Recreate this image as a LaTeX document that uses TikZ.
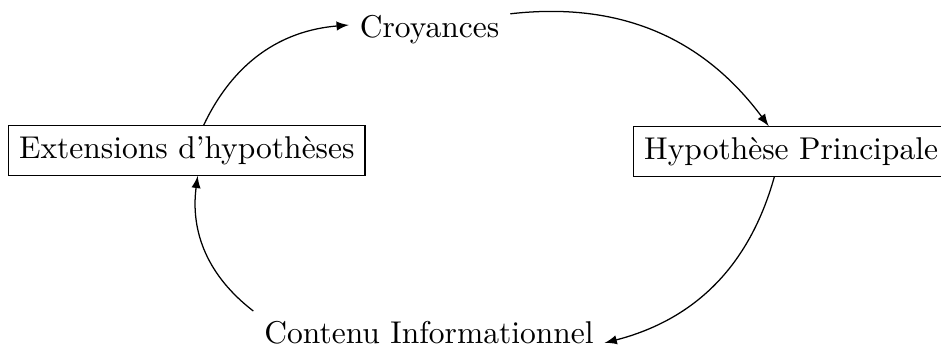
\documentclass[tikz,border=0pt]{standalone}
\usetikzlibrary{arrows}
\begin{document}
\begin{tikzpicture}[x=0.33333pt,y=-0.33333pt,
  every node/.style={font=\fontsize{10.5pt}{12.6pt}\selectfont,inner sep=3.5pt},
  boxnode/.style={draw,line width=0.42pt},
  plain/.style={},
  link/.style={-latex,bend left,line width=0.42pt}]
\useasboundingbox (0,0) rectangle (941,346);
\node[boxnode,anchor=west] (ext) at (8,150.5) {Extensions d'hypothèses};
\node[boxnode,anchor=west] (hyp) at (633,151.5) {Hypothèse Principale};
\node[plain,anchor=base] (croy) at (429.5,38) {Croyances};
\node[plain,anchor=base] (cont) at (429,343) {Contenu Informationnel};
\draw[link] (ext) to (croy);
\draw[link] (croy) to (hyp);
\draw[link] (hyp) to (cont);
\draw[link] (cont) to (ext);
\end{tikzpicture}
\end{document}
